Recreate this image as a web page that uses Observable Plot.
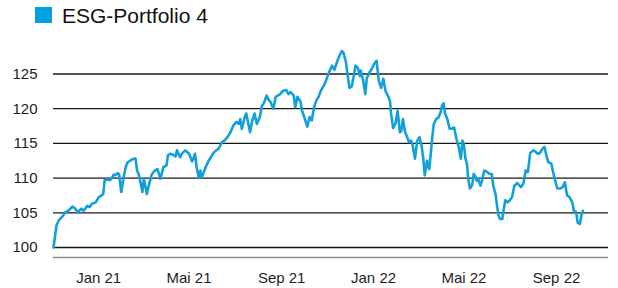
<!DOCTYPE html>
<html><head><meta charset="utf-8">
<script src="https://cdn.jsdelivr.net/npm/d3@7"></script>
<script src="https://cdn.jsdelivr.net/npm/@observablehq/plot@0.6"></script>
<style>
body{margin:0;background:#fff;font-family:"Liberation Sans",Arial,Helvetica,sans-serif;}
#wrap{position:relative;width:618px;height:288px;overflow:hidden;}
#sw{position:absolute;left:35px;top:7px;width:17px;height:16px;background:#00a0e3;}
#lt{position:absolute;left:62px;top:5px;font-size:21px;line-height:21px;color:#111;white-space:nowrap;}
#chart{position:absolute;left:0;top:40px;}
</style></head>
<body>
<div id="wrap">
  <div id="sw"></div>
  <div id="lt">ESG-Portfolio 4</div>
  <div id="chart"></div>
</div>
<script>
// Series: days since 2 Nov 2020, and index value
const seriesName = "ESG-Portfolio 4";
const days = [0,4,7,12,16,20,25,28,32,37,40,45,48,51,56,60,66,68,71,75,78,80,82,85,87,90,93,96,98,103,107,109,111,113,115,118,120,124,126,130,133,135,138,140,142,146,150,152,155,160,162,164,168,171,175,180,184,186,188,190,193,195,197,200,203,206,209,213,216,219,224,227,231,235,239,243,246,248,250,254,256,261,264,267,270,274,277,279,283,286,288,292,295,298,301,305,309,312,315,319,321,324,328,330,333,337,340,343,346,349,352,355,359,362,365,367,370,373,377,380,383,385,388,390,393,396,399,401,404,407,408,411,414,416,420,423,426,429,432,435,438,441,444,447,448,451,454,457,460,462,464,467,469,472,475,477,480,483,486,489,491,493,496,499,503,505,508,511,514,516,518,520,523,526,529,532,535,538,541,543,545,547,549,551,553,556,558,560,562,564,567,569,572,576,579,582,584,587,589,591,593,596,598,600,603,606,609,612,616,619,621,624,627,630,633,637,640,643,646,649,652,654,657,661,663,666,669,673,676,679,682,685,689,691,694,696,699,701,703];
const values = [100.0,103.2,103.9,104.5,105.1,105.3,105.9,105.7,105.1,105.6,105.3,106.0,105.8,106.3,106.5,107.2,107.7,109.7,109.8,109.7,110.1,110.5,110.4,110.7,110.6,108.0,110.1,111.6,112.2,112.6,112.8,112.8,111.1,110.6,109.7,108.0,109.9,107.7,108.7,110.4,110.9,111.1,111.3,110.6,109.9,111.6,111.8,113.3,113.5,113.3,113.1,114.0,113.0,113.6,114.0,113.5,112.4,112.9,113.5,111.6,110.0,111.1,110.1,111.0,111.8,112.5,113.0,113.7,114.0,114.2,115.2,115.4,115.9,116.6,117.6,118.1,117.8,118.5,117.1,118.8,119.3,116.6,118.3,119.3,117.8,118.8,120.5,120.7,121.9,121.2,121.0,120.0,121.7,121.9,122.1,122.6,122.7,122.1,122.4,121.9,120.2,121.7,121.0,119.7,118.8,117.4,118.8,118.3,120.2,121.2,121.7,122.6,123.3,124.1,125.0,125.5,126.2,125.6,126.9,127.7,128.3,128.1,126.9,125.3,123.0,123.2,124.9,126.2,125.9,124.7,125.5,124.2,122.1,124.4,125.3,125.8,126.5,126.9,124.0,123.0,124.3,122.5,121.9,121.0,119.5,117.2,117.8,119.7,116.6,116.8,118.5,116.6,116.1,115.2,115.4,114.7,112.8,115.4,115.9,114.5,112.8,110.4,112.5,111.3,115.9,117.8,118.5,118.7,119.5,120.5,120.8,119.3,118.5,117.1,117.1,117.3,115.7,114.5,112.8,115.4,114.8,112.8,112.1,109.7,108.5,109.0,110.6,110.3,109.6,109.9,108.9,109.6,111.1,110.9,110.6,110.6,108.9,107.7,106.0,104.6,104.1,104.1,105.6,106.8,106.5,106.8,107.3,108.9,109.3,108.9,108.7,109.2,111.1,110.9,113.6,114.0,113.8,113.5,113.6,114.2,114.5,113.5,112.3,112.1,111.1,109.7,108.5,108.5,108.7,109.4,107.5,107.3,106.5,105.3,105.1,103.6,103.4,104.6,105.3];
const startDate = "2020-11-02";
const endDate = "2022-11-09";
const yTicks = [100,105,110,115,120,125];
const yDomain = [98.56,128.96];
const xTickDates = ["2021-01-01","2021-05-01","2021-09-01","2022-01-01","2022-05-01","2022-09-01"];
const xTickLabels = ["Jan 21","Mai 21","Sep 21","Jan 22","Mai 22","Sep 22"];

const t0 = Date.parse(startDate + "T00:00:00Z");
const data = days.map((d,i)=>({date:new Date(t0 + d*864e5), value:values[i]}));
const tickDates = xTickDates.map(s=>new Date(s+"T00:00:00Z"));
const labelMap = new Map(tickDates.map((d,i)=>[+d, xTickLabels[i]]));

const chart = Plot.plot({
  width:618, height:248,
  marginLeft:53, marginRight:10, marginTop:6, marginBottom:31,
  style:{fontFamily:'"Liberation Sans",Arial,Helvetica,sans-serif', fontSize:"15px", color:"#1e1e1e", background:"#fff"},
  x:{type:"utc", domain:[new Date(startDate+"T00:00:00Z"), new Date(endDate+"T00:00:00Z")]},
  y:{domain:yDomain},
  marks:[
    Plot.ruleY(yTicks,{stroke:"#1a1a1a", strokeWidth:1.3}),
    Plot.ruleY([yDomain[0]],{stroke:"#8c8c8c", strokeWidth:1.6}),
    Plot.line(data,{x:"date", y:"value", stroke:"#12a0dd", strokeWidth:2.6, strokeLinejoin:"round"}),
    Plot.axisX({ticks:tickDates, tickFormat:d=>labelMap.get(+d), tickSize:0, tickPadding:15, label:null, fontSize:15}),
    Plot.axisY({ticks:yTicks, tickSize:0, tickPadding:16, label:null, fontSize:15})
  ]
});
document.getElementById("chart").appendChild(chart);
</script>
</body></html>
